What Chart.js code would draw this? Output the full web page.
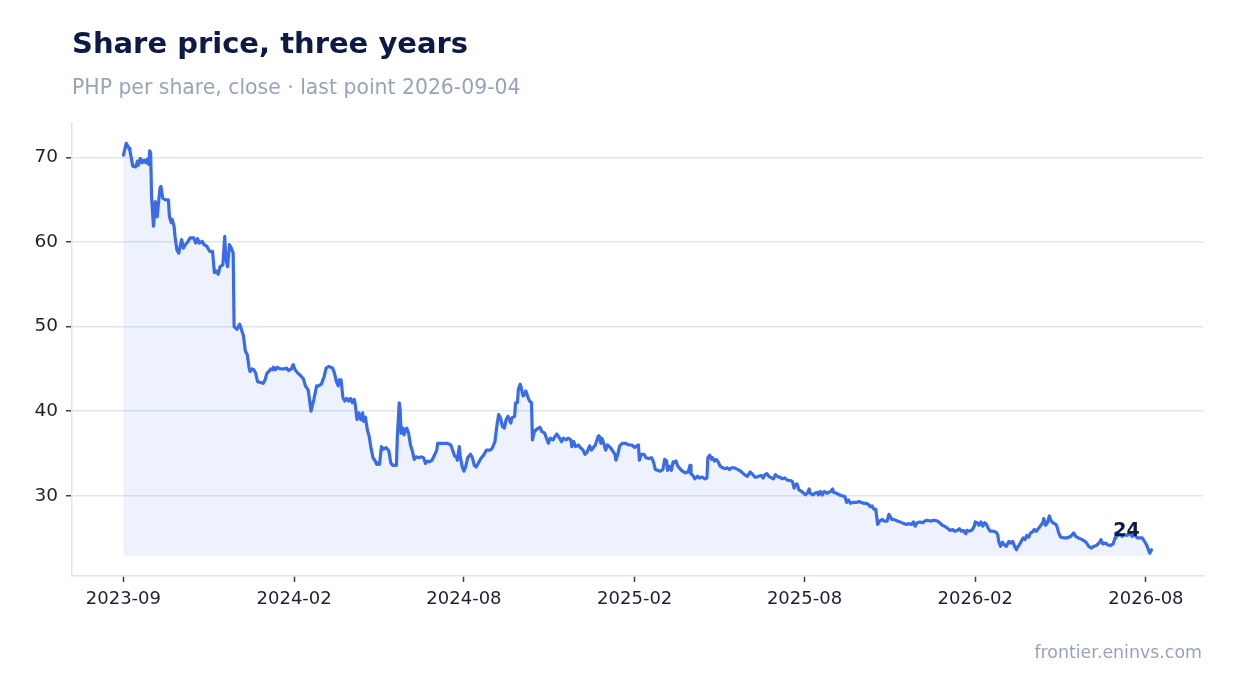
<!DOCTYPE html>
<html lang="en">
<head>
    <meta charset="UTF-8">
    <title>Share price, three years</title>
    <script src="https://cdn.jsdelivr.net/npm/chart.js"></script>
    <style>
        html, body { margin: 0; padding: 0; background: #ffffff; }
        .wrap { position: relative; width: 1234px; height: 693px; }
    </style>
</head>
<body>
<div class="wrap"><canvas id="priceChart"></canvas></div>
<script>
    // days since first close, and the close on that day (PHP)
    const dayOffsets = [
        0, 3, 6, 7, 10, 13, 15, 16, 18, 20, 22, 24, 25, 27, 28, 29, 30, 32, 33, 34, 36, 37, 39, 40, 42, 45, 48, 49, 51, 52,
        54, 55, 57, 59, 62, 64, 66, 69, 71, 75, 77, 79, 81, 84, 86, 89, 92, 95, 97, 99, 101, 103, 106, 108, 109, 111, 113, 115, 117, 118, 121, 124,
        128, 130, 132, 134, 135, 137, 139, 141, 143, 146, 149, 151, 153, 155, 157, 159, 160, 162, 164, 167, 171, 174, 176, 179, 181, 183, 186, 189, 192, 194,
        197, 200, 203, 206, 208, 211, 214, 216, 219, 223, 225, 227, 229, 230, 232, 234, 236, 238, 240, 242, 244, 246, 247, 249, 251, 253, 255, 256, 258, 260,
        262, 264, 266, 268, 270, 272, 273, 275, 277, 280, 283, 285, 287, 291, 292, 294, 295, 296, 298, 299, 301, 302, 304, 306, 308, 310, 312, 315, 317, 320,
        322, 324, 326, 329, 332, 334, 335, 338, 342, 345, 349, 350, 353, 355, 356, 358, 359, 361, 363, 365, 367, 370, 372, 374, 376, 379, 381, 384, 387, 391,
        393, 396, 398, 400, 402, 404, 406, 408, 410, 413, 414, 417, 418, 420, 421, 423, 424, 426, 428, 429, 431, 433, 435, 436, 438, 441, 444, 446, 449, 451,
        453, 455, 458, 460, 462, 465, 467, 469, 472, 474, 477, 478, 480, 482, 485, 487, 490, 492, 494, 497, 499, 501, 503, 506, 507, 509, 510, 512, 514, 516,
        519, 521, 524, 525, 527, 529, 532, 535, 539, 542, 545, 547, 549, 550, 552, 555, 557, 560, 563, 565, 567, 570, 572, 575, 577, 579, 580, 582, 584, 586,
        587, 589, 591, 594, 596, 599, 602, 604, 605, 607, 609, 612, 614, 617, 620, 622, 623, 625, 627, 628, 630, 632, 634, 636, 639, 641, 644, 646, 648, 651,
        653, 655, 658, 660, 662, 665, 667, 668, 671, 673, 675, 677, 680, 682, 684, 686, 688, 691, 693, 695, 698, 700, 702, 705, 707, 709, 711, 713, 715, 716,
        718, 720, 723, 725, 727, 729, 731, 732, 735, 737, 740, 741, 743, 745, 747, 750, 752, 754, 756, 757, 760, 763, 766, 769, 771, 773, 775, 778, 781, 784,
        787, 789, 792, 795, 796, 798, 800, 802, 804, 806, 809, 811, 814, 816, 819, 821, 825, 828, 832, 835, 837, 840, 842, 844, 846, 849, 852, 854, 857, 860,
        864, 868, 870, 873, 875, 878, 881, 884, 886, 889, 891, 893, 895, 898, 899, 902, 905, 907, 908, 910, 912, 914, 916, 918, 920, 922, 924, 927, 930, 932,
        933, 935, 937, 939, 941, 944, 946, 948, 950, 952, 953, 955, 957, 959, 961, 963, 965, 967, 969, 971, 973, 976, 978, 980, 981, 983, 985, 987, 989, 991,
        994, 995, 997, 999, 1003, 1006, 1010, 1013, 1015, 1018, 1022, 1026, 1029, 1032, 1034, 1037, 1040, 1042, 1044, 1047, 1049, 1052, 1055, 1057, 1058, 1060, 1062, 1065, 1067, 1070,
        1073, 1075, 1078, 1081, 1084, 1086, 1089, 1091, 1093, 1094, 1096
    ];
    const closePrices = [
        70.3, 71.7, 71.1, 70.8, 69.0, 68.9, 69.6, 69.1, 69.9, 69.4, 69.7, 69.4, 69.8, 69.2, 70.8, 70.6, 65.4, 61.9, 63.1, 64.8, 63.0, 64.2, 66.4, 66.6, 65.2, 65.0, 65.0, 63.1, 62.3, 62.7,
        61.9, 60.7, 59.1, 58.7, 60.3, 59.3, 59.7, 60.1, 60.5, 60.5, 59.9, 60.4, 59.9, 60.1, 59.7, 59.5, 58.9, 58.9, 56.4, 56.6, 56.2, 57.1, 57.3, 60.7, 58.3, 57.1, 59.7, 59.3, 58.7, 50.0, 49.7, 50.3,
        48.9, 47.1, 46.7, 45.1, 44.7, 45.0, 44.9, 44.5, 43.5, 43.4, 43.3, 43.7, 44.5, 44.7, 45.0, 44.9, 45.2, 44.9, 45.2, 45.0, 45.0, 45.1, 44.8, 45.0, 45.5, 44.9, 44.5, 44.2, 43.8, 43.0,
        42.5, 40.0, 41.4, 43.0, 43.0, 43.2, 44.1, 45.1, 45.3, 45.1, 44.5, 43.5, 43.0, 43.7, 43.7, 41.6, 41.2, 41.5, 41.2, 41.5, 41.0, 41.4, 40.9, 39.0, 39.8, 39.0, 39.8, 38.8, 39.3, 37.8,
        37.0, 35.6, 34.5, 34.2, 33.7, 33.9, 33.7, 35.8, 35.5, 35.7, 35.3, 33.9, 33.6, 33.6, 37.0, 41.0, 40.2, 37.4, 38.0, 37.2, 37.8, 38.0, 37.4, 36.0, 35.3, 34.3, 34.6, 34.5, 34.6, 34.5,
        33.8, 34.1, 34.0, 34.2, 34.9, 35.4, 36.2, 36.2, 36.2, 36.2, 36.0, 35.7, 34.7, 34.6, 34.2, 35.8, 34.7, 33.5, 32.9, 33.5, 34.5, 34.9, 34.5, 33.6, 33.4, 34.0, 34.4, 34.8, 35.4, 35.4,
        35.6, 36.4, 38.2, 39.6, 39.2, 38.2, 38.0, 39.0, 39.4, 38.6, 39.2, 39.4, 41.0, 41.0, 42.6, 43.2, 42.8, 41.8, 42.1, 42.4, 41.7, 41.2, 41.0, 36.6, 37.6, 37.9, 38.1, 37.6, 37.4, 36.8,
        36.2, 36.8, 36.6, 37.0, 37.3, 36.8, 36.4, 36.8, 36.6, 36.8, 36.6, 35.8, 36.4, 35.8, 36.0, 35.7, 35.4, 34.9, 35.1, 35.9, 35.4, 35.7, 36.0, 37.0, 37.1, 36.2, 36.8, 36.2, 35.4, 36.0,
        35.7, 35.4, 34.9, 34.2, 34.9, 35.9, 36.2, 36.2, 36.0, 36.0, 35.7, 35.9, 36.0, 34.2, 34.9, 34.9, 34.5, 34.4, 34.5, 34.0, 33.1, 33.0, 32.9, 33.1, 34.3, 34.1, 33.0, 33.5, 33.0, 34.0,
        33.9, 34.1, 33.5, 33.1, 32.9, 32.7, 32.8, 33.6, 32.6, 32.4, 32.0, 32.3, 32.1, 32.2, 32.0, 32.1, 34.5, 34.8, 34.3, 34.5, 34.1, 34.3, 34.0, 33.5, 33.3, 33.2, 33.3, 33.1, 33.3, 33.3,
        33.2, 33.1, 32.9, 32.7, 32.5, 32.3, 32.6, 32.8, 32.5, 32.2, 32.2, 32.3, 32.4, 32.1, 32.5, 32.6, 32.3, 32.1, 32.0, 32.5, 32.2, 32.2, 32.0, 32.1, 31.9, 31.8, 31.8, 31.7, 30.9, 31.3,
        31.4, 30.7, 30.5, 30.3, 30.1, 30.3, 30.8, 30.3, 30.1, 30.3, 30.4, 30.1, 30.5, 30.1, 30.5, 30.3, 30.4, 30.5, 30.8, 30.4, 30.3, 30.1, 30.0, 29.9, 29.2, 29.5, 29.1, 29.2, 29.2, 29.3,
        29.2, 29.1, 29.1, 28.9, 28.7, 28.8, 28.4, 28.4, 26.6, 27.0, 27.2, 27.0, 27.0, 27.8, 27.2, 27.2, 27.0, 26.9, 26.7, 26.6, 26.7, 26.6, 26.9, 26.4, 26.8, 26.9, 26.8, 27.0, 27.1, 27.0,
        27.1, 27.0, 26.8, 26.5, 26.4, 26.2, 25.9, 26.0, 25.8, 25.9, 26.1, 25.8, 25.9, 25.5, 25.9, 25.8, 26.0, 26.4, 26.9, 26.8, 26.5, 26.9, 26.4, 26.8, 26.6, 26.1, 25.8, 25.8, 25.7, 25.4,
        24.6, 24.0, 24.5, 24.2, 24.0, 24.6, 24.4, 24.6, 24.0, 23.6, 23.9, 24.2, 24.6, 25.0, 24.8, 25.3, 25.1, 25.6, 25.7, 26.0, 25.8, 26.2, 26.5, 26.8, 27.3, 26.5, 26.8, 27.6, 27.0, 26.8,
        26.6, 26.4, 25.6, 25.1, 25.0, 25.0, 25.2, 25.6, 25.2, 25.0, 24.8, 24.5, 24.0, 23.8, 24.0, 24.1, 24.4, 24.8, 24.3, 24.4, 24.2, 24.1, 24.3, 25.0, 25.6, 25.3, 25.4, 25.2, 25.4, 25.3,
        25.6, 25.2, 25.3, 25.0, 25.0, 25.0, 24.5, 24.1, 23.5, 23.2, 23.6
    ];

    // x-axis ticks (day offsets) and their labels
    const tickDays = [0, 182, 363, 545, 726, 908, 1090];
    const tickLabels = ['2023-09', '2024-02', '2024-08', '2025-02', '2025-08', '2026-02', '2026-08'];
    const yTicks = [30, 40, 50, 60, 70];

    const FONT = '"DejaVu Sans", "Liberation Sans", sans-serif';

    // title, subtitle, source and the end-of-line label
    const decorations = {
        id: 'decorations',
        afterDraw(chart) {
            const ctx = chart.ctx;
            ctx.save();
            ctx.textBaseline = 'alphabetic';

            ctx.textAlign = 'left';
            ctx.fillStyle = '#0c1a45';
            ctx.font = 'bold 29px ' + FONT;
            ctx.fillText('Share price, three years', 72, 53);

            ctx.fillStyle = '#98a3ba';
            ctx.font = '20.4px ' + FONT;
            ctx.fillText('PHP per share, close \u00b7 last point 2026-09-04', 72, 94);

            ctx.textAlign = 'right';
            ctx.font = '17.4px ' + FONT;
            ctx.fillText('frontier.eninvs.com', 1202, 658);

            // last value label
            const i = closePrices.length - 1;
            const px = chart.scales.x.getPixelForValue(dayOffsets[i]);
            const py = chart.scales.y.getPixelForValue(closePrices[i]);
            ctx.textAlign = 'center';
            ctx.fillStyle = '#0c1a45';
            ctx.font = 'bold 19px ' + FONT;
            ctx.fillText(String(Math.round(closePrices[i])), px - 25, py - 14);
            ctx.restore();
        }
    };

    const points = dayOffsets.map((d, i) => ({ x: d, y: closePrices[i] }));

    new Chart(document.getElementById('priceChart'), {
        type: 'line',
        data: {
            datasets: [{
                data: points,
                borderColor: '#3a6be8',
                backgroundColor: 'rgba(59, 108, 232, 0.09)',
                borderWidth: 3.2,
                pointRadius: 0,
                tension: 0,
                borderJoinStyle: 'round',
                borderCapStyle: 'round',
                fill: { value: 22.9 }
            }]
        },
        options: {
            responsive: true,
            maintainAspectRatio: false,
            animation: false,
            layout: { padding: { top: 123, right: 31, bottom: 0, left: 0 } },
            plugins: {
                legend: { display: false },
                tooltip: { enabled: false }
            },
            scales: {
                x: {
                    type: 'linear',
                    min: -54.8,
                    max: 1150.8,
                    afterBuildTicks: (scale) => { scale.ticks = tickDays.map(v => ({ value: v })); },
                    afterFit: (scale) => { scale.height = 117; },
                    ticks: {
                        callback: (value) => tickLabels[tickDays.indexOf(value)],
                        color: '#1c2233',
                        font: { family: FONT, size: 18 },
                        padding: 7,
                        maxRotation: 0,
                        autoSkip: false
                    },
                    grid: {
                        drawOnChartArea: false,
                        drawTicks: true,
                        tickLength: 6,
                        tickColor: '#3a3f4b',
                        tickWidth: 1.5
                    },
                    border: { display: true, color: '#dfe3ee', width: 1.5 }
                },
                y: {
                    min: 20.5,
                    max: 74.1,
                    afterBuildTicks: (scale) => { scale.ticks = yTicks.map(v => ({ value: v })); },
                    afterFit: (scale) => { scale.width = 72; },
                    ticks: {
                        color: '#1c2233',
                        font: { family: FONT, size: 18.5 },
                        padding: 8
                    },
                    grid: {
                        color: '#e1e5f1',
                        lineWidth: 1.5,
                        drawTicks: true,
                        tickLength: 6,
                        tickColor: '#3a3f4b',
                        tickWidth: 1.5
                    },
                    border: { display: true, color: '#dfe3ee', width: 1.5 }
                }
            }
        },
        plugins: [decorations]
    });
</script>
</body>
</html>
